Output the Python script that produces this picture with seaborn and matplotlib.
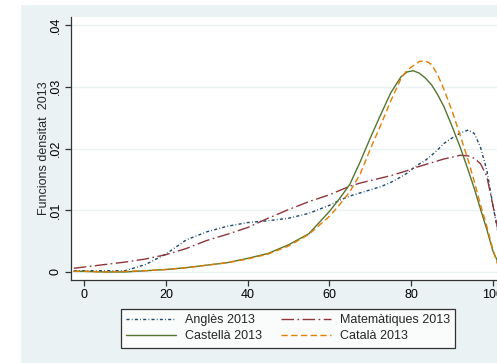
import matplotlib
matplotlib.use("Agg")
import matplotlib.pyplot as plt
import seaborn as sns
import pandas as pd
from matplotlib.patches import Rectangle

# ---- data ----
x_vals = [-2.5, 0, 5, 10, 15, 20, 25, 30, 35, 40, 45, 50, 55, 60, 62.5, 65, 67.5, 70, 72.5,
          75, 77.5, 79, 80.5, 82, 83.5, 85, 86.5, 88, 90, 92, 94, 95.5, 97, 98.5, 100, 101.5, 103]
angles = [0.0002, 0.0002, 0.0002, 0.0002, 0.0012, 0.0029, 0.0052, 0.0065, 0.0074, 0.0080,
          0.0083, 0.0087, 0.0095, 0.0108, 0.0116, 0.0123, 0.0128, 0.0133, 0.0138,
          0.0145, 0.0154, 0.0160, 0.0168, 0.0175, 0.0181, 0.0189, 0.0198, 0.0208, 0.0217,
          0.0225, 0.0230, 0.0224, 0.0201, 0.0165, 0.0108, 0.0055, 0.0020]
matematiques = [0.0006, 0.0008, 0.0012, 0.0016, 0.0021, 0.0028, 0.0038, 0.0051, 0.0061, 0.0072,
                0.0087, 0.0101, 0.0114, 0.0125, 0.0132, 0.0139, 0.0144, 0.0148, 0.0152,
                0.0156, 0.0161, 0.0164, 0.0168, 0.0171, 0.0174, 0.0177, 0.0180, 0.0183, 0.0186,
                0.0189, 0.0188, 0.0184, 0.0175, 0.0155, 0.0108, 0.0060, 0.0020]
castella = [0.0001, 0.0001, 0.0000, 0.0000, 0.0002, 0.0004, 0.0007, 0.0011, 0.0015, 0.0022,
            0.0030, 0.0044, 0.0062, 0.0098, 0.0119, 0.0142, 0.0178, 0.0217, 0.0254,
            0.0290, 0.0316, 0.0324, 0.0326, 0.0322, 0.0314, 0.0303, 0.0287, 0.0268, 0.0236,
            0.0202, 0.0164, 0.0134, 0.0101, 0.0069, 0.0034, 0.0012, 0.0002]
catala = [0.0001, 0.0001, 0.0000, 0.0001, 0.0002, 0.0004, 0.0007, 0.0011, 0.0015, 0.0021,
          0.0029, 0.0042, 0.0061, 0.0090, 0.0109, 0.0130, 0.0158, 0.0199, 0.0237,
          0.0277, 0.0313, 0.0327, 0.0334, 0.0341, 0.0342, 0.0336, 0.0319, 0.0296, 0.0261,
          0.0221, 0.0180, 0.0145, 0.0108, 0.0074, 0.0036, 0.0005, 0.0000]

series_names = ["Anglès 2013", "Matemàtiques 2013", "Castellà 2013", "Català 2013"]
series_values = [angles, matematiques, castella, catala]
x_ticks = [0, 20, 40, 60, 80, 100]
y_ticks = [0, 0.01, 0.02, 0.03, 0.04]
y_tick_labels = ["0", ".01", ".02", ".03", ".04"]
y_label = "Funcions densitat  2013"

# ---- styles ----
palette = {"Anglès 2013": "#1a476f", "Matemàtiques 2013": "#90353b",
           "Castellà 2013": "#55752f", "Català 2013": "#e37e00"}
dashes = {"Anglès 2013": (2.2, 1.6, 0.6, 1.6), "Matemàtiques 2013": (9, 2.5, 1.2, 2.5),
          "Castellà 2013": "", "Català 2013": (4.5, 2.5)}

df = pd.concat([pd.DataFrame({"x": x_vals, "y": v, "serie": n})
                for n, v in zip(series_names, series_values)], ignore_index=True)

sns.set_theme(style="white")
plt.rcParams["font.family"] = ["Liberation Sans", "DejaVu Sans"]
plt.rcParams["lines.solid_joinstyle"] = "round"
plt.rcParams["lines.dash_joinstyle"] = "round"

fig = plt.figure(figsize=(4.97, 3.63), dpi=100)
fig.patch.set_facecolor("white")
bg = "#EAF2F3"
fig.patches.append(Rectangle((21 / 497, 0), 1, 1 - 5 / 363, transform=fig.transFigure,
                             facecolor=bg, edgecolor="none", zorder=-10))

ax = fig.add_axes([71 / 497, 1 - 280 / 363, 435 / 497, 263 / 363])
ax.set_facecolor("white")

sns.lineplot(data=df, x="x", y="y", hue="serie", style="serie", hue_order=series_names,
             style_order=series_names, palette=palette, dashes=dashes, sort=False,
             linewidth=1.0, ax=ax, legend=True)

fs = 9
ax.set_xlim(-3.2, 103.2)
ax.set_ylim(-0.0013, 0.0413)
ax.set_xticks(x_ticks)
ax.set_xticklabels([str(t) for t in x_ticks], fontsize=fs)
ax.set_yticks(y_ticks)
ax.set_yticklabels(y_tick_labels, fontsize=fs, rotation=90, va="center")
ax.yaxis.grid(True, color=bg, linewidth=1.0)
ax.xaxis.grid(False)
ax.set_axisbelow(True)
for s in ["top", "right"]:
    ax.spines[s].set_visible(False)
for s in ["left", "bottom"]:
    ax.spines[s].set_color("#333333")
    ax.spines[s].set_linewidth(0.9)
ax.tick_params(axis="both", which="major", length=4.5, width=0.9, color="#333333",
               direction="out", left=True, bottom=True, pad=2, labelcolor="black")
ax.set_xlabel("")
ax.set_ylabel(y_label, fontsize=fs, labelpad=0)

handles, labels = ax.get_legend_handles_labels()
ax.get_legend().remove()
hmap = dict(zip(labels, handles))
order = ["Anglès 2013", "Castellà 2013", "Matemàtiques 2013", "Català 2013"]
leg = fig.legend([hmap[o] for o in order], order, ncol=2, loc="center",
                 bbox_to_anchor=(288 / 497, 1 - 328 / 363), frameon=True, fancybox=False,
                 fontsize=fs, handlelength=4.0, columnspacing=1.5, handletextpad=0.7,
                 borderpad=0.45, labelspacing=0.3)
leg.get_frame().set_edgecolor("black")
leg.get_frame().set_linewidth(0.9)
leg.get_frame().set_facecolor("white")
for l in leg.get_lines():
    l.set_linewidth(1.0)

fig.savefig("out.png", dpi=100, facecolor=fig.get_facecolor())
